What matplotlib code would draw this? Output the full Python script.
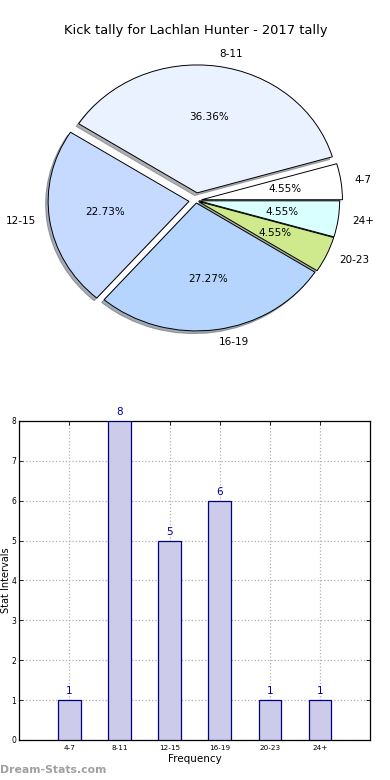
import matplotlib
matplotlib.use("Agg")
import matplotlib.pyplot as plt

# data
intervals = ["4-7", "8-11", "12-15", "16-19", "20-23", "24+"]
counts = [1, 8, 5, 6, 1, 1]
pie_colors = ["#ffffff", "#eaf1ff", "#c6d9ff", "#b5d5ff", "#cfea8c", "#d9ffff"]
explode = [0.04, 0.06, 0.05, 0.02, 0.02, 0.02]

fig = plt.figure(figsize=(3.9, 7.8), dpi=100)

# pie chart
ax1 = fig.add_axes([0.051, 0.538, 0.903, 0.41])
wedges, texts, autotexts = ax1.pie(
    counts, labels=intervals, colors=pie_colors, explode=explode,
    autopct="%1.2f%%", startangle=0,
    shadow={"ox": -0.013, "oy": -0.015, "shade": 0.6},
    wedgeprops={"edgecolor": "black", "linewidth": 0.7},
    textprops={"fontsize": 7.5},
)
ax1.set_aspect("auto")
ax1.set_xlim(-1.25, 1.25)
ax1.set_ylim(-1.25, 1.25)
ax1.set_title("Kick tally for Lachlan Hunter - 2017 tally", fontsize=9.4, pad=5)

# bar chart
ax2 = fig.add_axes([0.049, 0.0513, 0.9, 0.409])
xpos = list(range(len(intervals)))
bars = ax2.bar(xpos, counts, width=0.45, color="#ccccea",
               edgecolor="#000080", linewidth=0.9, zorder=3)
for x, c in zip(xpos, counts):
    ax2.text(x, c + 0.1, str(c), ha="center", va="bottom",
             color="#0000a0", fontsize=7.5)
ax2.set_xlim(-1, 6)
ax2.set_ylim(0, 8)
ax2.set_xticks(xpos)
ax2.set_xticklabels(intervals, fontsize=5.2)
ax2.tick_params(axis="y", labelsize=5.5, pad=2)
ax2.tick_params(direction="in", top=True, right=True, length=3, width=0.6)
ax2.grid(True, linestyle=":", color="#b0b0b0", linewidth=0.9, zorder=0)
ax2.set_axisbelow(True)
ax2.set_xlabel("Frequency", fontsize=7.5, labelpad=2)
ax2.set_ylabel("Stat Intervals", fontsize=7)
ax2.yaxis.set_label_coords(-0.024, 0.5)
for s in ax2.spines.values():
    s.set_linewidth(0.9)

fig.text(0.0, 0.006, "Dream-Stats.com", color="#a0a0a0", fontsize=7.8,
         fontweight="bold", ha="left", va="bottom")

fig.savefig("out.png", dpi=100)
